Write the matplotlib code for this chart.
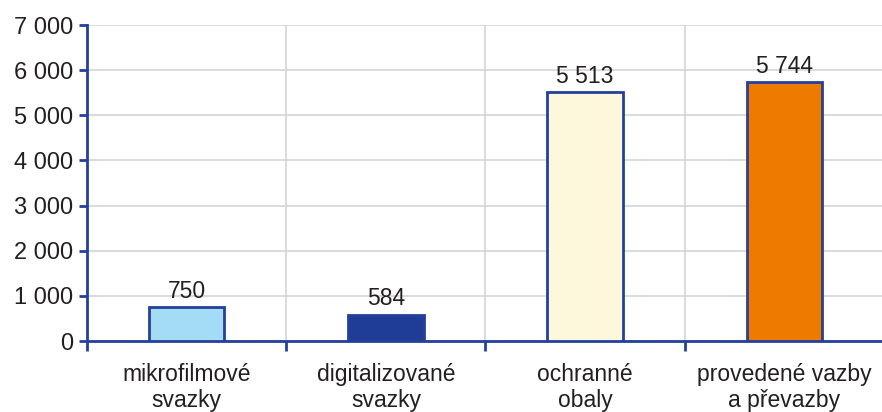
import matplotlib.pyplot as plt
import numpy as np

plt.rcParams['font.family'] = ['Liberation Sans', 'DejaVu Sans']

categories = ['mikrofilmové\nsvazky', 'digitalizované\nsvazky', 'ochranné\nobaly', 'provedené vazby\na převazby']
values = [750, 584, 5513, 5744]
colors = ['#a4dcf6', '#1f3d96', '#fdf8dc', '#ee7b00']
yticks = [0, 1000, 2000, 3000, 4000, 5000, 6000, 7000]

edge = '#24409a'
text_col = '#231f20'

fig = plt.figure(figsize=(8.82, 4.12), dpi=100)
ax = fig.add_axes([87 / 882, 1 - 341 / 412, 797 / 882, 316 / 412])

x = np.arange(len(values))
ax.bar(x, values, width=0.38, color=colors, edgecolor=edge, linewidth=2, zorder=3)

def fmt(v):
    return f"{v:,}".replace(',', ' ')

for xi, v in zip(x, values):
    ax.annotate(fmt(v), (xi, v), xytext=(0, 3), textcoords='offset points',
                ha='center', va='bottom', fontsize=16.5, color=text_col)

ax.set_xlim(-0.5, len(values) - 0.5)
ax.set_ylim(0, 7000)
ax.set_yticks(yticks)
ax.set_yticklabels([fmt(t) for t in yticks], fontsize=17, color=text_col)

# category boundaries for ticks and vertical grid
bounds = np.arange(len(values) + 1) - 0.5
ax.set_xticks(bounds)
ax.set_xticklabels([])
ax.set_xticks(x, minor=True)
ax.set_xticklabels(categories, minor=True, fontsize=16.5, color=text_col, linespacing=1.15)
ax.tick_params(axis='x', which='minor', length=0, pad=16)
ax.tick_params(axis='x', which='major', length=7, width=2, color=edge, direction='out')
ax.tick_params(axis='y', length=6, width=2, color=edge, direction='out', pad=4)

ax.grid(True, axis='both', which='major', color='#d4d4d4', linewidth=1.2, zorder=0)
ax.set_axisbelow(True)

for s in ['top', 'right']:
    ax.spines[s].set_visible(False)
for s in ['left', 'bottom']:
    ax.spines[s].set_color(edge)
    ax.spines[s].set_linewidth(2)

fig.savefig('out.png', dpi=100)
